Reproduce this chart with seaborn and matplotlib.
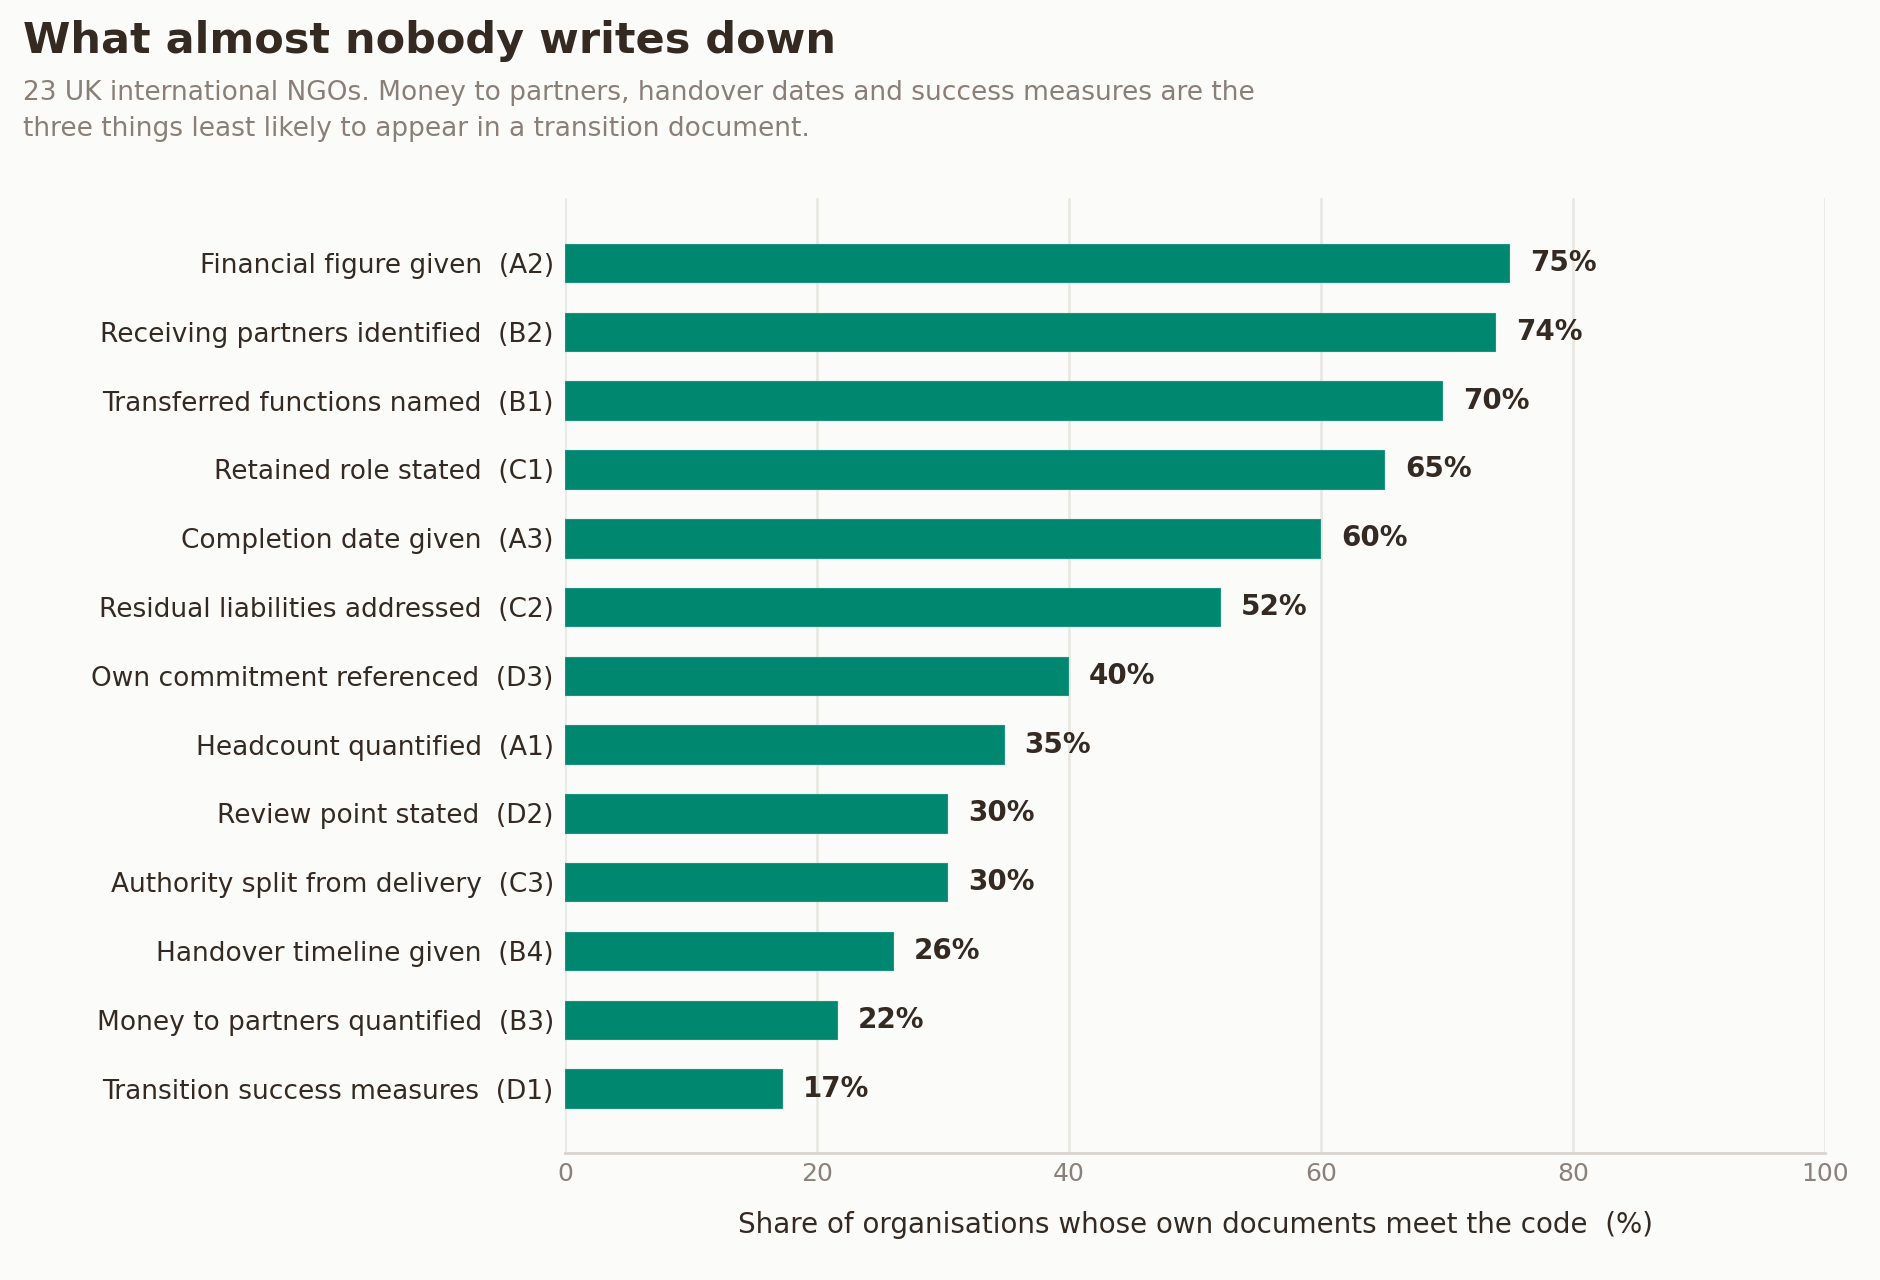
import matplotlib
matplotlib.use("Agg")
import matplotlib.pyplot as plt
import seaborn as sns
import pandas as pd

categories = [
    "Financial figure given  (A2)",
    "Receiving partners identified  (B2)",
    "Transferred functions named  (B1)",
    "Retained role stated  (C1)",
    "Completion date given  (A3)",
    "Residual liabilities addressed  (C2)",
    "Own commitment referenced  (D3)",
    "Headcount quantified  (A1)",
    "Review point stated  (D2)",
    "Authority split from delivery  (C3)",
    "Handover timeline given  (B4)",
    "Money to partners quantified  (B3)",
    "Transition success measures  (D1)",
]
shares = [74.9, 73.8, 69.6, 65.0, 59.9, 52.0, 39.9, 34.8, 30.3, 30.3, 26.0, 21.6, 17.2]
xticks = [0, 20, 40, 60, 80, 100]

BG = "#fbfbf9"
TEAL = "#00876f"
DARK = "#352a22"
GREY = "#8a817a"

sns.set_theme(style="white")
plt.rcParams["font.family"] = ["DejaVu Sans"]

df = pd.DataFrame({"cat": categories, "share": shares})

fig = plt.figure(figsize=(9.4, 6.4), dpi=200, facecolor=BG)
ax = fig.add_axes([0.3005, 0.099, 0.6705, 0.746])
ax.set_facecolor(BG)

sns.barplot(data=df, x="share", y="cat", order=categories, color=TEAL,
            saturation=1, width=0.56, edgecolor="#1b9482", linewidth=0.4,
            ax=ax, zorder=3)

for p, v in zip(ax.patches, shares):
    ax.annotate(f"{v:.0f}%", (p.get_width(), p.get_y() + p.get_height() / 2),
                xytext=(7.5, 0), textcoords="offset points", va="center", ha="left",
                fontsize=10, fontweight="bold", color=DARK)

ax.set_xlim(0, 100)
ax.set_ylim(len(categories) - 1 + 0.94, -0.94)
ax.set_xticks(xticks)
ax.set_xticklabels([str(t) for t in xticks])
ax.grid(axis="x", color="#ebe8e3", linewidth=1.0, zorder=0)
ax.grid(axis="y", visible=False)
ax.set_axisbelow(True)
for s in ["top", "right", "left"]:
    ax.spines[s].set_visible(False)
ax.spines["bottom"].set_color("#d8d4cf")
ax.spines["bottom"].set_linewidth(1.0)
ax.tick_params(axis="x", length=0, pad=3, labelsize=9, labelcolor=GREY)
ax.tick_params(axis="y", length=0, pad=4, labelsize=9.5, labelcolor=DARK)
ax.set_ylabel("")
ax.set_xlabel("Share of organisations whose own documents meet the code  (%)",
              fontsize=10, color=DARK, labelpad=9)

fig.text(0.012, 1 - 20 / 1280, "What almost nobody writes down", fontsize=15.5,
         fontweight="bold", color=DARK, ha="left", va="top")
fig.text(0.012, 1 - 80 / 1280,
         "23 UK international NGOs. Money to partners, handover dates and success measures are the\n"
         "three things least likely to appear in a transition document.",
         fontsize=9.5, color="#8a7f77", ha="left", va="top", linespacing=1.5)

fig.savefig("out.png", dpi=200, facecolor=BG)
